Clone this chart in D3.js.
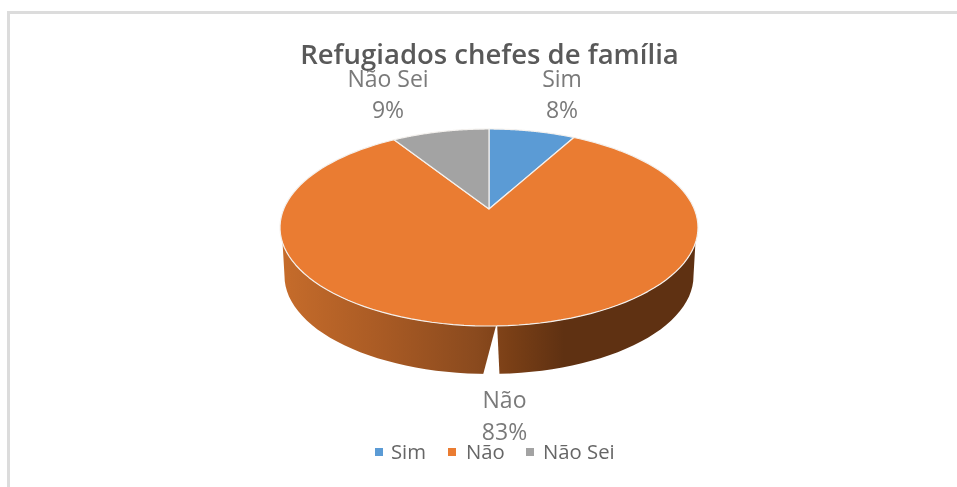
<!DOCTYPE html>
<html><head><meta charset="utf-8">
<script src="https://cdn.jsdelivr.net/npm/d3@7/dist/d3.min.js"></script>
<style>html,body{margin:0;padding:0;background:#fff}svg{display:block;filter:blur(0.45px)}text{font-family:"Open Sans",sans-serif}</style>
</head><body><svg id="c" width="957" height="487"></svg>
<script>
const categories = ["Sim", "Não", "Não Sei"];
const values = [8, 83, 9];
const labels = ["8%", "83%", "9%"];
const colors = ["#5b9bd5", "#ea7c32", "#a3a3a3"];
const title = "Refugiados chefes de família";

const W = 957, H = 487;
const svg = d3.select("#c").attr("viewBox", [0,0,W,H]);

// frame
svg.append("path").attr("d","M8.5 487V12.5H957").attr("fill","none").attr("stroke","#dcdcdc").attr("stroke-width",3);

// tilted disc: circle mapped with a perspective that keeps it an ellipse
const face = {cx:489, cy:227.5, rx:209, ry:98.5};
const base = {cx:489, cy:276, rx:204.5, ry:98};
const a = 0.188, k = Math.sqrt(1-a*a);
function proj(theta, e){
  const X = Math.sin(theta), Y = Math.cos(theta), d = 1+a*Y;
  return [e.cx + e.rx*X*k/d, e.cy - e.ry*(Y+a)/d];
}
const pie = d3.pie().value(d=>d).sort(null)(values);
const line = d3.line();
function sector(s){
  const n = 120;
  const apex = [face.cx, face.cy - face.ry*a];
  const arc = d3.range(n+1).map(i=>proj(s.startAngle+(s.endAngle-s.startAngle)*i/n, face));
  return line([apex,...arc])+"Z";
}

// gradient for the wall
const defs = svg.append("defs");
const g = defs.append("linearGradient").attr("id","wall").attr("gradientUnits","userSpaceOnUse")
  .attr("x1",281).attr("x2",697).attr("y1",0).attr("y2",0);
[[0,"#c66c2b"],[0.25,"#a85a24"],[0.47,"#8a4a1e"],[0.55,"#7a3f16"],[0.68,"#5f3112"],[1,"#5f3112"]]
  .forEach(([o,c])=>g.append("stop").attr("offset",o).attr("stop-color",c));

// wall below the front of the Não slice
const ell = (e,deg)=>[e.cx+e.rx*Math.cos(deg*Math.PI/180), e.cy+e.ry*Math.sin(deg*Math.PI/180)];
const upper = d3.range(9,172,3).map(t=>ell(face,t));
const lower = d3.range(180,-1,-3).map(t=>ell(base,t));
svg.append("path").attr("d",line([...upper,...lower])+"Z").attr("fill","url(#wall)");

// break in the wall
svg.append("path").attr("d",line([[497,322],[483,375],[499.5,375]])+"Z").attr("fill","#fff");

// top face
svg.append("g").selectAll("path").data(pie).join("path")
  .attr("d",sector).attr("fill",(d,i)=>colors[i])
  .attr("stroke","#f4f1ee").attr("stroke-width",1.2).attr("stroke-linejoin","round");

// title
svg.append("text").attr("x",489.5).attr("y",64).attr("text-anchor","middle")
  .attr("font-size",27.5).attr("font-weight",600).attr("fill","#595959").text(title);

// data labels
const labelX = [562, 504.5, 388];
const labelY = [[87,118],[408,440],[87,118]];
categories.forEach((c,i)=>{
  svg.append("text").attr("x",labelX[i]).attr("y",labelY[i][0]).attr("text-anchor","middle")
    .attr("font-size",23).attr("fill","#7a7a7a").text(c);
  svg.append("text").attr("x",labelX[i]).attr("y",labelY[i][1]).attr("text-anchor","middle")
    .attr("font-size",23).attr("fill","#7a7a7a").text(labels[i]);
});

// legend
const legX = [[375,391],[448,466],[526,543]];
categories.forEach((c,i)=>{
  svg.append("rect").attr("x",legX[i][0]).attr("y",448).attr("width",8).attr("height",8).attr("fill",colors[i]);
  svg.append("text").attr("x",legX[i][1]).attr("y",459).attr("font-size",20.3).attr("fill","#666").text(c);
});
</script></body></html>
